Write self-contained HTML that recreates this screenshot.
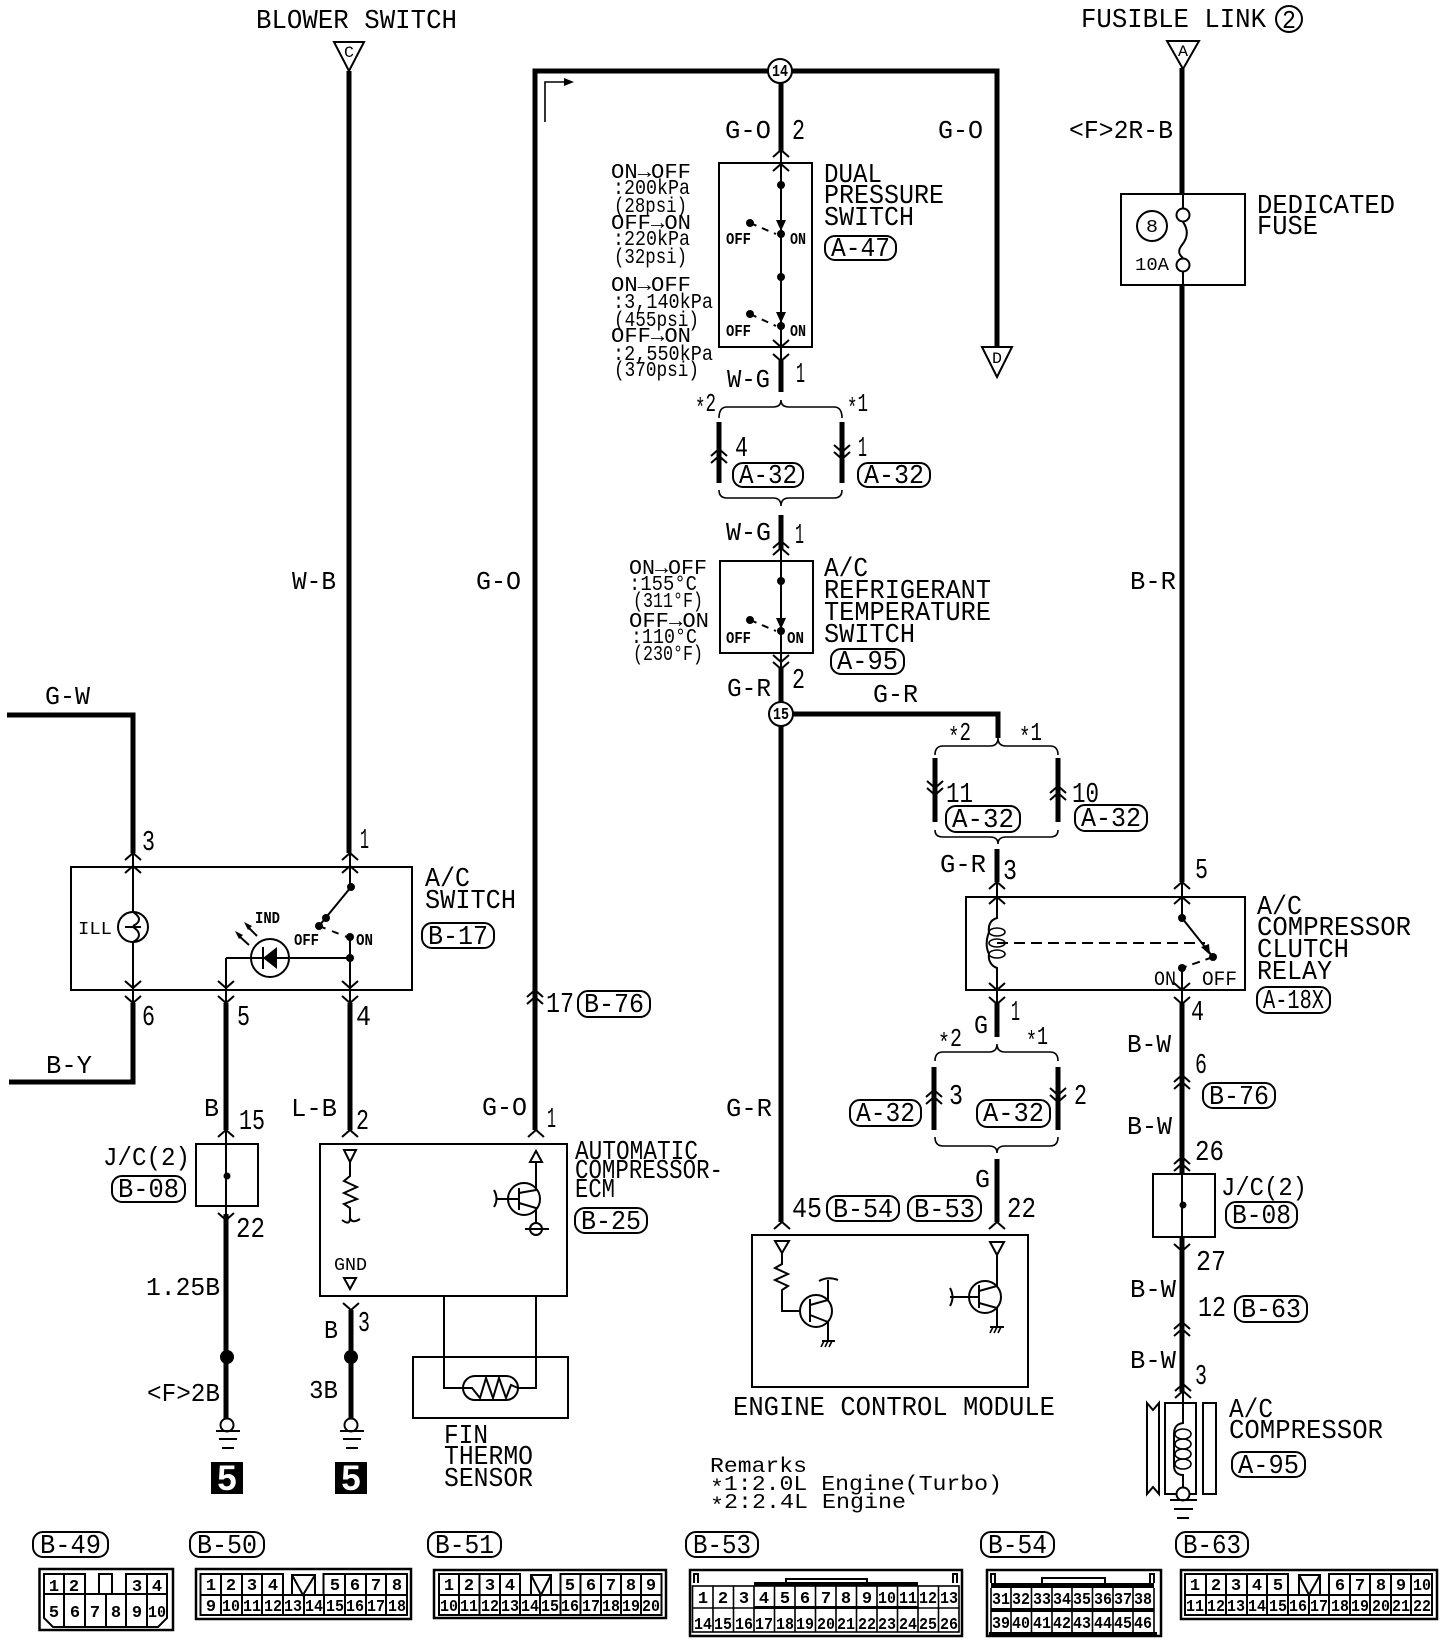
<!DOCTYPE html>
<html><head><meta charset="utf-8"><style>
html,body{margin:0;padding:0;background:#fff}
svg{display:block}
text{font-family:"Liberation Mono",monospace;fill:#000}
.a{font-size:27px}.b{font-size:29px}.w{font-size:26px}.n{font-size:21px}
.s{font-size:17px;font-weight:bold}
.r{font-size:18px}
.c{font-size:17px;font-weight:bold;text-anchor:middle}
.t{fill:none;stroke:#000;stroke-width:2}
.m{fill:none;stroke:#000;stroke-width:1.6}
.k{fill:none;stroke:#000;stroke-width:5}
.f{fill:#000;stroke:none}
.o{fill:#fff;stroke:#000;stroke-width:2}
.p{fill:#fff;stroke:#000;stroke-width:2}
</style></head><body>
<svg xmlns="http://www.w3.org/2000/svg" width="1456" height="1642" viewBox="0 0 1456 1642">
<defs>
<path id="u" d="M-8,7 L0,0 L8,7" fill="none" stroke="#000" stroke-width="2"/>
<path id="d" d="M-8,-7 L0,0 L8,-7" fill="none" stroke="#000" stroke-width="2"/>
</defs>
<rect width="1456" height="1642" fill="#fff"/>

<!-- thick wires -->
<path class="k" d="M349,71V853 M133,853V715H7 M133,1003V1082H9 M226,1003V1130 M350,1003V1130
M535,1130V71H997V347 M781,71V152 M781,360V392 M781,515V550 M781,668V702 M793,714H998V738 M781,726V1222
M997,849V882 M997,1002V1037 M997,1159V1222 M1182,68V193 M1182,285V882 M1182,1002V1174 M1182,1237V1392
M226,1214V1420 M351,1310V1420"/>
<path class="k" d="M719,422V483 M842,422V483 M935,758V822 M1058,758V822 M934,1067V1130 M1058,1067V1130"/>

<!-- chevrons -->
<g>
<use href="#u" x="133" y="853"/><use href="#u" x="133" y="866"/>
<use href="#u" x="350" y="853"/><use href="#u" x="350" y="866"/>
<use href="#d" x="133" y="988"/><use href="#d" x="133" y="1003"/>
<use href="#d" x="226" y="988"/><use href="#d" x="226" y="1003"/>
<use href="#d" x="350" y="988"/><use href="#d" x="350" y="1003"/>
<use href="#u" x="226" y="1130"/><use href="#u" x="350" y="1130"/><use href="#u" x="536" y="1130"/>
<use href="#u" x="535" y="990"/><use href="#u" x="535" y="997"/>
<use href="#d" x="226" y="1220"/><use href="#d" x="351" y="1310"/>
<use href="#u" x="781" y="150"/><use href="#u" x="781" y="164"/>
<use href="#d" x="781" y="347"/><use href="#d" x="781" y="361"/>
<use href="#u" x="719" y="449"/><use href="#u" x="719" y="456"/>
<use href="#d" x="842" y="452"/><use href="#d" x="842" y="459"/>
<use href="#u" x="781" y="541"/><use href="#u" x="781" y="548"/>
<use href="#d" x="781" y="662"/><use href="#d" x="781" y="669"/>
<use href="#d" x="935" y="795"/><use href="#d" x="935" y="788"/>
<use href="#u" x="1058" y="786"/><use href="#u" x="1058" y="793"/>
<use href="#u" x="997" y="882"/><use href="#u" x="997" y="897"/>
<use href="#u" x="1182" y="882"/><use href="#u" x="1182" y="897"/>
<use href="#d" x="997" y="990"/><use href="#d" x="997" y="1004"/>
<use href="#d" x="1182" y="990"/><use href="#d" x="1182" y="1004"/>
<use href="#u" x="934" y="1090"/><use href="#u" x="934" y="1097"/>
<use href="#d" x="1058" y="1095"/><use href="#d" x="1058" y="1102"/>
<use href="#u" x="782" y="1222"/><use href="#u" x="997" y="1222"/>
<use href="#u" x="1182" y="1075"/><use href="#u" x="1182" y="1082"/>
<use href="#u" x="1182" y="1157"/><use href="#u" x="1182" y="1164"/>
<use href="#d" x="1182" y="1251"/>
<use href="#u" x="1182" y="1322"/><use href="#u" x="1182" y="1329"/>
<use href="#u" x="1183" y="1384"/><use href="#u" x="1183" y="1391"/>
</g>

<!-- top labels -->
<text class="a" x="256" y="28" textLength="201" lengthAdjust="spacingAndGlyphs">BLOWER SWITCH</text>
<path class="t" fill="#fff" d="M334,42H364L349,71Z"/><text x="344" y="57" font-size="16" textLength="10" lengthAdjust="spacingAndGlyphs">C</text>
<text class="a" x="1081" y="27" textLength="185" lengthAdjust="spacingAndGlyphs">FUSIBLE LINK</text>
<circle class="t" cx="1289" cy="19" r="13"/><text class="w" x="1282" y="28" textLength="14" lengthAdjust="spacingAndGlyphs">2</text>
<path class="t" d="M1167,41H1199L1183,69Z"/><text x="1178" y="56" font-size="16" textLength="10" lengthAdjust="spacingAndGlyphs">A</text>
<path class="t" d="M982,347H1012L997,377Z"/><text x="992" y="363" font-size="16" textLength="10" lengthAdjust="spacingAndGlyphs">D</text>
<path class="m" d="M545,122V82H566"/><path class="f" d="M574,82L564,78V86Z"/>

<!-- wire labels -->
<text class="w" x="292" y="589" textLength="44" lengthAdjust="spacingAndGlyphs">W-B</text>
<text class="w" x="476" y="589" textLength="45" lengthAdjust="spacingAndGlyphs">G-O</text>
<text class="w" x="725" y="138" textLength="46" lengthAdjust="spacingAndGlyphs">G-O</text>
<text class="b" x="792" y="139" textLength="13" lengthAdjust="spacingAndGlyphs">2</text>
<text class="w" x="938" y="138" textLength="45" lengthAdjust="spacingAndGlyphs">G-O</text>
<text class="w" x="1069" y="138" textLength="104" lengthAdjust="spacingAndGlyphs">&lt;F&gt;2R-B</text>
<text class="w" x="1130" y="589" textLength="46" lengthAdjust="spacingAndGlyphs">B-R</text>
<text class="w" x="45" y="704" textLength="45" lengthAdjust="spacingAndGlyphs">G-W</text>
<text class="w" x="46" y="1073" textLength="46" lengthAdjust="spacingAndGlyphs">B-Y</text>
<text class="w" x="727" y="387" textLength="43" lengthAdjust="spacingAndGlyphs">W-G</text>
<text class="b" x="796" y="382" textLength="9" lengthAdjust="spacingAndGlyphs">1</text>
<text class="w" x="695" y="411" textLength="21" lengthAdjust="spacingAndGlyphs"><tspan dy="5">*</tspan><tspan dy="-5">2</tspan></text>
<text class="w" x="847" y="411" textLength="21" lengthAdjust="spacingAndGlyphs"><tspan dy="5">*</tspan><tspan dy="-5">1</tspan></text>
<text class="b" x="735" y="456" textLength="13" lengthAdjust="spacingAndGlyphs">4</text>
<text class="b" x="858" y="456" textLength="9" lengthAdjust="spacingAndGlyphs">1</text>
<text class="w" x="726" y="540" textLength="45" lengthAdjust="spacingAndGlyphs">W-G</text>
<text class="b" x="795" y="543" textLength="9" lengthAdjust="spacingAndGlyphs">1</text>
<text class="w" x="727" y="696" textLength="44" lengthAdjust="spacingAndGlyphs">G-R</text>
<text class="b" x="792" y="688" textLength="13" lengthAdjust="spacingAndGlyphs">2</text>
<text class="w" x="873" y="702" textLength="45" lengthAdjust="spacingAndGlyphs">G-R</text>
<text class="w" x="948" y="740" textLength="23" lengthAdjust="spacingAndGlyphs"><tspan dy="5">*</tspan><tspan dy="-5">2</tspan></text>
<text class="w" x="1019" y="740" textLength="23" lengthAdjust="spacingAndGlyphs"><tspan dy="5">*</tspan><tspan dy="-5">1</tspan></text>
<text class="b" x="946" y="802" textLength="27" lengthAdjust="spacingAndGlyphs">11</text>
<text class="b" x="1072" y="802" textLength="27" lengthAdjust="spacingAndGlyphs">10</text>
<text class="w" x="940" y="872" textLength="46" lengthAdjust="spacingAndGlyphs">G-R</text>
<text class="b" x="1003" y="879" textLength="14" lengthAdjust="spacingAndGlyphs">3</text>
<text class="b" x="1195" y="878" textLength="13" lengthAdjust="spacingAndGlyphs">5</text>
<text class="b" x="142" y="850" textLength="13" lengthAdjust="spacingAndGlyphs">3</text>
<text class="b" x="360" y="848" textLength="9" lengthAdjust="spacingAndGlyphs">1</text>
<text class="b" x="142" y="1025" textLength="13" lengthAdjust="spacingAndGlyphs">6</text>
<text class="b" x="237" y="1025" textLength="13" lengthAdjust="spacingAndGlyphs">5</text>
<text class="b" x="356" y="1025" textLength="15" lengthAdjust="spacingAndGlyphs">4</text>
<text class="b" x="546" y="1012" textLength="28" lengthAdjust="spacingAndGlyphs">17</text>
<text class="w" x="482" y="1115" textLength="45" lengthAdjust="spacingAndGlyphs">G-O</text>
<text class="b" x="547" y="1127" textLength="9" lengthAdjust="spacingAndGlyphs">1</text>
<text class="w" x="204" y="1116" textLength="15" lengthAdjust="spacingAndGlyphs">B</text>
<text class="b" x="239" y="1129" textLength="26" lengthAdjust="spacingAndGlyphs">15</text>
<text class="w" x="291" y="1116" textLength="46" lengthAdjust="spacingAndGlyphs">L-B</text>
<text class="b" x="356" y="1129" textLength="13" lengthAdjust="spacingAndGlyphs">2</text>
<text class="w" x="103" y="1165" textLength="87" lengthAdjust="spacingAndGlyphs">J/C(2)</text>
<text class="b" x="236" y="1237" textLength="29" lengthAdjust="spacingAndGlyphs">22</text>
<text class="w" x="146" y="1295" textLength="74" lengthAdjust="spacingAndGlyphs">1.25B</text>
<text class="w" x="147" y="1401" textLength="73" lengthAdjust="spacingAndGlyphs">&lt;F&gt;2B</text>
<text class="w" x="309" y="1398" textLength="29" lengthAdjust="spacingAndGlyphs">3B</text>
<text class="w" x="324" y="1338" textLength="14" lengthAdjust="spacingAndGlyphs">B</text>
<text class="b" x="358" y="1331" textLength="12" lengthAdjust="spacingAndGlyphs">3</text>
<text class="w" x="726" y="1116" textLength="46" lengthAdjust="spacingAndGlyphs">G-R</text>
<text class="b" x="792" y="1217" textLength="30" lengthAdjust="spacingAndGlyphs">45</text>
<text class="b" x="1007" y="1217" textLength="29" lengthAdjust="spacingAndGlyphs">22</text>
<text class="w" x="975" y="1187" textLength="15" lengthAdjust="spacingAndGlyphs">G</text>
<text class="w" x="974" y="1033" textLength="14" lengthAdjust="spacingAndGlyphs">G</text>
<text class="b" x="1011" y="1020" textLength="9" lengthAdjust="spacingAndGlyphs">1</text>
<text class="w" x="938" y="1046" textLength="24" lengthAdjust="spacingAndGlyphs"><tspan dy="5">*</tspan><tspan dy="-5">2</tspan></text>
<text class="w" x="1026" y="1044" textLength="22" lengthAdjust="spacingAndGlyphs"><tspan dy="5">*</tspan><tspan dy="-5">1</tspan></text>
<text class="b" x="949" y="1104" textLength="14" lengthAdjust="spacingAndGlyphs">3</text>
<text class="b" x="1074" y="1104" textLength="13" lengthAdjust="spacingAndGlyphs">2</text>
<text class="b" x="1191" y="1020" textLength="13" lengthAdjust="spacingAndGlyphs">4</text>
<text class="w" x="1127" y="1052" textLength="44" lengthAdjust="spacingAndGlyphs">B-W</text>
<text class="b" x="1195" y="1073" textLength="12" lengthAdjust="spacingAndGlyphs">6</text>
<text class="w" x="1127" y="1134" textLength="45" lengthAdjust="spacingAndGlyphs">B-W</text>
<text class="b" x="1195" y="1160" textLength="29" lengthAdjust="spacingAndGlyphs">26</text>
<text class="w" x="1221" y="1195" textLength="86" lengthAdjust="spacingAndGlyphs">J/C(2)</text>
<text class="b" x="1196" y="1270" textLength="30" lengthAdjust="spacingAndGlyphs">27</text>
<text class="w" x="1130" y="1297" textLength="46" lengthAdjust="spacingAndGlyphs">B-W</text>
<text class="b" x="1198" y="1316" textLength="28" lengthAdjust="spacingAndGlyphs">12</text>
<text class="w" x="1130" y="1368" textLength="46" lengthAdjust="spacingAndGlyphs">B-W</text>
<text class="b" x="1195" y="1384" textLength="12" lengthAdjust="spacingAndGlyphs">3</text>

<!-- junctions -->
<circle class="o" cx="780" cy="71" r="12"/><text class="s" x="772" y="76" font-size="14" textLength="16" lengthAdjust="spacingAndGlyphs">14</text>
<circle class="o" cx="781" cy="714" r="12"/><text class="s" x="773" y="719" textLength="16" lengthAdjust="spacingAndGlyphs">15</text>

<!-- Dual pressure switch -->
<rect class="t" x="719" y="163" width="93" height="184"/>
<path class="t" d="M781,152V360"/>
<g class="f"><circle cx="781" cy="185" r="4"/><circle cx="781" cy="234" r="4"/><circle cx="750" cy="223" r="4"/><circle cx="781" cy="277" r="4"/><circle cx="781" cy="326" r="4"/><circle cx="750" cy="314" r="4"/>
<path d="M776,220H786L781,231Z"/><path d="M776,312H786L781,323Z"/></g>
<path class="t" stroke-dasharray="7 6" d="M750,223L776,234"/><path class="t" stroke-dasharray="7 6" d="M750,314L776,326"/>
<text class="s" x="726" y="244" textLength="25" lengthAdjust="spacingAndGlyphs">OFF</text><text class="s" x="790" y="244" textLength="16" lengthAdjust="spacingAndGlyphs">ON</text>
<text class="s" x="726" y="336" textLength="25" lengthAdjust="spacingAndGlyphs">OFF</text><text class="s" x="790" y="336" textLength="16" lengthAdjust="spacingAndGlyphs">ON</text>
<text class="a" x="824" y="182" textLength="58" lengthAdjust="spacingAndGlyphs">DUAL</text>
<text class="a" x="824" y="203" textLength="120" lengthAdjust="spacingAndGlyphs">PRESSURE</text>
<text class="a" x="824" y="225" textLength="90" lengthAdjust="spacingAndGlyphs">SWITCH</text>
<text class="n" x="611" y="178" textLength="80" lengthAdjust="spacingAndGlyphs">ON→OFF</text>
<text class="n" x="613" y="194" textLength="77" lengthAdjust="spacingAndGlyphs">:200kPa</text>
<text class="n" x="614" y="212" textLength="73" lengthAdjust="spacingAndGlyphs">(28psi)</text>
<text class="n" x="611" y="229" textLength="80" lengthAdjust="spacingAndGlyphs">OFF→ON</text>
<text class="n" x="613" y="245" textLength="77" lengthAdjust="spacingAndGlyphs">:220kPa</text>
<text class="n" x="614" y="263" textLength="73" lengthAdjust="spacingAndGlyphs">(32psi)</text>
<text class="n" x="611" y="291" textLength="80" lengthAdjust="spacingAndGlyphs">ON→OFF</text>
<text class="n" x="613" y="308" textLength="100" lengthAdjust="spacingAndGlyphs">:3,140kPa</text>
<text class="n" x="614" y="326" textLength="85" lengthAdjust="spacingAndGlyphs">(455psi)</text>
<text class="n" x="611" y="342" textLength="80" lengthAdjust="spacingAndGlyphs">OFF→ON</text>
<text class="n" x="613" y="360" textLength="100" lengthAdjust="spacingAndGlyphs">:2,550kPa</text>
<text class="n" x="614" y="376" textLength="85" lengthAdjust="spacingAndGlyphs">(370psi)</text>

<!-- braces -->
<path class="m" d="M719,418Q719,407 727,407H773Q781,407 781,400Q781,407 789,407H834Q842,407 842,418"/>
<path class="m" d="M719,490Q719,498 727,498H773Q781,498 781,506Q781,498 789,498H834Q842,498 842,490"/>
<path class="m" d="M935,755Q935,746 943,746H990Q998,746 998,738Q998,746 1006,746H1050Q1058,746 1058,755"/>
<path class="m" d="M935,830Q935,837 943,837H990Q998,837 998,844Q998,837 1006,837H1050Q1058,837 1058,830"/>
<path class="m" d="M935,1061Q935,1052 943,1052H989Q997,1052 997,1044Q997,1052 1005,1052H1050Q1058,1052 1058,1061"/>
<path class="m" d="M935,1137Q935,1146 943,1146H989Q997,1146 997,1153Q997,1146 1005,1146H1050Q1058,1146 1058,1137"/>

<!-- Refrigerant temperature switch -->
<rect class="t" x="720" y="561" width="93" height="92"/>
<path class="t" d="M781,550V668"/>
<g class="f"><circle cx="781" cy="581" r="4"/><circle cx="781" cy="631" r="4"/><circle cx="750" cy="620" r="4"/><path d="M776,618H786L781,629Z"/></g>
<path class="t" stroke-dasharray="7 6" d="M750,620L776,631"/>
<text class="s" x="726" y="643" textLength="25" lengthAdjust="spacingAndGlyphs">OFF</text><text class="s" x="787" y="643" textLength="17" lengthAdjust="spacingAndGlyphs">ON</text>
<text class="n" x="629" y="574" textLength="78" lengthAdjust="spacingAndGlyphs">ON→OFF</text>
<text class="n" x="629" y="590" textLength="68" lengthAdjust="spacingAndGlyphs">:155°C</text>
<text class="n" x="633" y="607" textLength="70" lengthAdjust="spacingAndGlyphs">(311°F)</text>
<text class="n" x="629" y="627" textLength="80" lengthAdjust="spacingAndGlyphs">OFF→ON</text>
<text class="n" x="631" y="643" textLength="66" lengthAdjust="spacingAndGlyphs">:110°C</text>
<text class="n" x="633" y="660" textLength="70" lengthAdjust="spacingAndGlyphs">(230°F)</text>
<text class="a" x="824" y="576" textLength="44" lengthAdjust="spacingAndGlyphs">A/C</text>
<text class="a" x="824" y="598" textLength="167" lengthAdjust="spacingAndGlyphs">REFRIGERANT</text>
<text class="a" x="824" y="620" textLength="167" lengthAdjust="spacingAndGlyphs">TEMPERATURE</text>
<text class="a" x="824" y="642" textLength="91" lengthAdjust="spacingAndGlyphs">SWITCH</text>

<!-- Dedicated fuse -->
<rect class="t" x="1121" y="194" width="124" height="91"/>
<path class="t" d="M1183,194V209 M1183,222C1190,232 1186,240 1182,245C1178,250 1178,254 1183,258 M1183,272V285"/>
<circle class="t" cx="1183" cy="215" r="6.5"/><circle class="t" cx="1183" cy="265" r="6.5"/>
<circle class="t" cx="1152" cy="226" r="15"/><text class="r" x="1146" y="232" textLength="12" lengthAdjust="spacingAndGlyphs">8</text>
<text class="r" x="1135" y="270" textLength="34" lengthAdjust="spacingAndGlyphs">10A</text>
<text class="a" x="1257" y="213" textLength="138" lengthAdjust="spacingAndGlyphs">DEDICATED</text>
<text class="a" x="1257" y="234" textLength="61" lengthAdjust="spacingAndGlyphs">FUSE</text>

<!-- A/C switch -->
<rect class="t" x="71" y="867" width="341" height="123"/>
<path class="t" d="M133,853V912 M133,942V1003 M226,958V1003 M226,958H350 M350,853V887 M350,937V1003"/>
<circle class="t" cx="133" cy="927" r="15"/><path class="t" d="M133,912C141,917 141,922 133,926M125,927H141M133,927C141,932 141,938 133,942"/>
<text class="r" x="78" y="934" textLength="34" lengthAdjust="spacingAndGlyphs">ILL</text>
<text class="s" x="255" y="923" textLength="25" lengthAdjust="spacingAndGlyphs">IND</text>
<circle class="t" cx="270" cy="958" r="19"/><path class="f" d="M263,958L277,947V969Z"/><path class="t" d="M263,947V969"/>
<path class="t" d="M257,936L247,926M249,945L238,935"/><path class="f" d="M244,922L252,926L248,930Z M235,931L243,935L239,939Z"/>
<g class="f"><circle cx="351" cy="887" r="4"/><circle cx="319" cy="926" r="4"/><circle cx="326" cy="918" r="4"/><circle cx="350" cy="937" r="4"/><circle cx="350" cy="958" r="4"/></g>
<path class="t" d="M351,887L319,926"/><path class="t" stroke-dasharray="7 7" d="M319,926L347,937"/>
<text class="s" x="294" y="945" textLength="25" lengthAdjust="spacingAndGlyphs">OFF</text><text class="s" x="356" y="945" textLength="17" lengthAdjust="spacingAndGlyphs">ON</text>
<text class="a" x="425" y="886" textLength="45" lengthAdjust="spacingAndGlyphs">A/C</text>
<text class="a" x="425" y="908" textLength="91" lengthAdjust="spacingAndGlyphs">SWITCH</text>

<!-- J/C left -->
<rect class="t" x="196" y="1144" width="62" height="62"/><path class="t" d="M226,1130V1220"/><circle class="f" cx="227" cy="1176" r="3.5"/>
<circle class="f" cx="227" cy="1357" r="7"/><circle class="f" cx="351" cy="1357" r="7"/>
<g class="o"><circle cx="227" cy="1425" r="6.5"/><circle cx="351" cy="1425" r="6.5"/></g>
<path class="t" d="M216,1431H240M219,1439H237M222,1448H234M340,1431H364M343,1439H361M346,1448H358"/>
<rect x="211" y="1462" width="32" height="32" fill="#000"/><rect x="335" y="1462" width="32" height="32" fill="#000"/>
<text x="227" y="1490" font-size="35" font-weight="bold" text-anchor="middle" style="font-family:'Liberation Sans',sans-serif;fill:#fff">5</text>
<text x="351" y="1490" font-size="35" font-weight="bold" text-anchor="middle" style="font-family:'Liberation Sans',sans-serif;fill:#fff">5</text>

<!-- ECM -->
<rect class="t" x="320" y="1144" width="247" height="152"/>
<path class="t" d="M344,1150H356L350,1162Z M350,1162V1176L344,1181L357,1187L344,1193L357,1199L344,1204L350,1208V1220 M342,1220Q350,1226 350,1218Q352,1224 360,1219"/>
<text class="r" x="334" y="1270" textLength="33" lengthAdjust="spacingAndGlyphs">GND</text>
<path class="t" d="M344,1278H356L350,1289Z"/>
<circle class="t" cx="524" cy="1199" r="16"/>
<path class="t" d="M497,1199H519 M519,1188V1210 M519,1193L536,1190V1162 M519,1203L536,1208V1223 M494,1190Q499,1199 494,1207 M525,1229H549"/>
<path class="t" d="M530,1162H542L536,1151Z"/><circle class="t" cx="536" cy="1229" r="6"/>
<text class="a" x="575" y="1159" textLength="123" lengthAdjust="spacingAndGlyphs">AUTOMATIC</text>
<text class="a" x="575" y="1178" textLength="148" lengthAdjust="spacingAndGlyphs">COMPRESSOR-</text>
<text class="a" x="575" y="1197" textLength="40" lengthAdjust="spacingAndGlyphs">ECM</text>

<!-- Fin thermo -->
<rect class="t" x="413" y="1357" width="155" height="61"/>
<path class="t" d="M444,1296V1388H463 M536,1296V1388H518 M463,1388H472L480,1398L486,1378L493,1398L499,1378L506,1398L511,1385L518,1388"/>
<rect class="t" x="463" y="1376" width="55" height="24" rx="12"/>
<text class="a" x="444" y="1443" textLength="44" lengthAdjust="spacingAndGlyphs">FIN</text>
<text class="a" x="444" y="1464" textLength="89" lengthAdjust="spacingAndGlyphs">THERMO</text>
<text class="a" x="444" y="1486" textLength="89" lengthAdjust="spacingAndGlyphs">SENSOR</text>

<!-- Relay -->
<rect class="t" x="966" y="897" width="279" height="93"/>
<path class="t" d="M997,880V918C990,920 988,926 989,932C986,940 986,948 989,954C988,960 991,966 997,968V1002 M1182,880V918L1213,957 M1182,968V1002"/>
<g class="m"><ellipse cx="997" cy="932" rx="8" ry="4"/><ellipse cx="997" cy="943" rx="8" ry="4"/><ellipse cx="997" cy="954" rx="8" ry="4"/></g>
<path class="t" stroke-dasharray="11 6" d="M997,943H1205"/>
<g class="f"><circle cx="1182" cy="918" r="4"/><circle cx="1213" cy="957" r="4"/><circle cx="1182" cy="968" r="4"/><path d="M1201,947L1209,944L1210,955Z"/></g>
<path class="t" stroke-dasharray="8 6" d="M1213,957L1182,968"/>
<text x="1154" y="985" font-size="20" textLength="22" lengthAdjust="spacingAndGlyphs">ON</text>
<text x="1202" y="985" font-size="20" textLength="35" lengthAdjust="spacingAndGlyphs">OFF</text>
<text class="a" x="1257" y="914" textLength="45" lengthAdjust="spacingAndGlyphs">A/C</text>
<text class="a" x="1257" y="935" textLength="154" lengthAdjust="spacingAndGlyphs">COMPRESSOR</text>
<text class="a" x="1257" y="957" textLength="92" lengthAdjust="spacingAndGlyphs">CLUTCH</text>
<text class="a" x="1257" y="979" textLength="75" lengthAdjust="spacingAndGlyphs">RELAY</text>

<!-- J/C right -->
<rect class="t" x="1153" y="1174" width="62" height="63"/><path class="t" d="M1182,1164V1251"/><circle class="f" cx="1183" cy="1205" r="3.5"/>

<!-- Compressor -->
<path class="t" d="M1147,1403L1153,1410L1159,1403V1494L1153,1487L1147,1494Z"/>
<rect class="t" x="1165" y="1403" width="31" height="91"/><rect class="t" x="1203" y="1403" width="13" height="91"/>
<path class="t" d="M1183,1392V1423C1176,1424 1174,1428 1174,1434V1466C1174,1472 1178,1475 1183,1475V1488"/>
<g class="m"><ellipse cx="1183" cy="1434" rx="8" ry="5"/><ellipse cx="1183" cy="1444" rx="8" ry="5"/><ellipse cx="1183" cy="1454" rx="8" ry="5"/><ellipse cx="1183" cy="1464" rx="8" ry="5"/></g>
<circle class="o" cx="1183" cy="1494" r="6.5"/>
<path class="t" d="M1170,1500H1197M1174,1509H1193M1177,1518H1189"/>
<text class="a" x="1229" y="1417" textLength="44" lengthAdjust="spacingAndGlyphs">A/C</text>
<text class="a" x="1229" y="1438" textLength="154" lengthAdjust="spacingAndGlyphs">COMPRESSOR</text>

<!-- ECM box -->
<rect class="t" x="752" y="1235" width="276" height="152"/>
<path class="t" d="M775,1241H789L782,1253Z M782,1253V1264L775,1268L788,1274L775,1280L788,1286L782,1290V1311H800"/>
<circle class="t" cx="816" cy="1311" r="16"/>
<path class="t" d="M810,1299V1322 M810,1305L828,1300V1280 M819,1281Q828,1276 838,1280 M810,1315L828,1322V1341 M822,1341H835"/>
<path class="m" d="M824,1341L821,1347M828,1341L825,1347M832,1341L829,1347"/>
<path class="t" d="M990,1242H1004L997,1255Z M997,1255V1286L979,1291 M979,1285V1308 M979,1303L997,1308V1327 M950,1297H979 M950,1288Q955,1297 950,1306 M990,1327H1004"/>
<path class="m" d="M993,1327L990,1333M997,1327L994,1333M1001,1327L998,1333"/>
<circle class="t" cx="985" cy="1297" r="16"/>
<text class="a" x="733" y="1415" textLength="322" lengthAdjust="spacingAndGlyphs">ENGINE CONTROL MODULE</text>

<!-- Remarks -->
<text class="n" x="710" y="1472" textLength="97" lengthAdjust="spacingAndGlyphs">Remarks</text>
<text class="n" x="710" y="1490" textLength="292" lengthAdjust="spacingAndGlyphs"><tspan dy="4">*</tspan><tspan dy="-4">1:2.0L Engine(Turbo)</tspan></text>
<text class="n" x="710" y="1508" textLength="196" lengthAdjust="spacingAndGlyphs"><tspan dy="4">*</tspan><tspan dy="-4">2:2.4L Engine</tspan></text>

<!-- pills -->
<g>
<rect class="p" x="825" y="236" width="71" height="24" rx="10"/><text class="a" x="831" y="256" textLength="59" lengthAdjust="spacingAndGlyphs">A-47</text>
<rect class="p" x="733" y="463" width="70" height="24" rx="10"/><text class="a" x="739" y="483" textLength="58" lengthAdjust="spacingAndGlyphs">A-32</text>
<rect class="p" x="858" y="463" width="72" height="24" rx="10"/><text class="a" x="864" y="483" textLength="60" lengthAdjust="spacingAndGlyphs">A-32</text>
<rect class="p" x="831" y="649" width="73" height="25" rx="10"/><text class="a" x="837" y="669" textLength="61" lengthAdjust="spacingAndGlyphs">A-95</text>
<rect class="p" x="946" y="806" width="74" height="26" rx="10"/><text class="a" x="952" y="827" textLength="62" lengthAdjust="spacingAndGlyphs">A-32</text>
<rect class="p" x="1075" y="805" width="72" height="26" rx="10"/><text class="a" x="1081" y="826" textLength="60" lengthAdjust="spacingAndGlyphs">A-32</text>
<rect class="p" x="1257" y="987" width="73" height="26" rx="10"/><text class="a" x="1263" y="1008" textLength="61" lengthAdjust="spacingAndGlyphs">A-18X</text>
<rect class="p" x="1203" y="1083" width="72" height="25" rx="10"/><text class="a" x="1209" y="1104" textLength="60" lengthAdjust="spacingAndGlyphs">B-76</text>
<rect class="p" x="1226" y="1202" width="71" height="26" rx="10"/><text class="a" x="1232" y="1223" textLength="59" lengthAdjust="spacingAndGlyphs">B-08</text>
<rect class="p" x="1235" y="1296" width="72" height="26" rx="10"/><text class="a" x="1241" y="1317" textLength="60" lengthAdjust="spacingAndGlyphs">B-63</text>
<rect class="p" x="1232" y="1452" width="73" height="25" rx="10"/><text class="a" x="1238" y="1473" textLength="61" lengthAdjust="spacingAndGlyphs">A-95</text>
<rect class="p" x="578" y="991" width="72" height="26" rx="10"/><text class="a" x="584" y="1012" textLength="60" lengthAdjust="spacingAndGlyphs">B-76</text>
<rect class="p" x="422" y="923" width="72" height="25" rx="10"/><text class="a" x="428" y="944" textLength="60" lengthAdjust="spacingAndGlyphs">B-17</text>
<rect class="p" x="112" y="1176" width="73" height="26" rx="10"/><text class="a" x="118" y="1197" textLength="61" lengthAdjust="spacingAndGlyphs">B-08</text>
<rect class="p" x="575" y="1208" width="72" height="25" rx="10"/><text class="a" x="581" y="1229" textLength="60" lengthAdjust="spacingAndGlyphs">B-25</text>
<rect class="p" x="827" y="1196" width="72" height="25" rx="10"/><text class="a" x="833" y="1217" textLength="60" lengthAdjust="spacingAndGlyphs">B-54</text>
<rect class="p" x="908" y="1196" width="73" height="25" rx="10"/><text class="a" x="914" y="1217" textLength="61" lengthAdjust="spacingAndGlyphs">B-53</text>
<rect class="p" x="850" y="1100" width="71" height="26" rx="10"/><text class="a" x="856" y="1121" textLength="59" lengthAdjust="spacingAndGlyphs">A-32</text>
<rect class="p" x="977" y="1100" width="73" height="27" rx="10"/><text class="a" x="983" y="1121" textLength="61" lengthAdjust="spacingAndGlyphs">A-32</text>
<rect class="p" x="33" y="1532" width="75" height="25" rx="10"/><text class="a" x="40" y="1553" textLength="61" lengthAdjust="spacingAndGlyphs">B-49</text>
<rect class="p" x="190" y="1532" width="74" height="25" rx="10"/><text class="a" x="197" y="1553" textLength="60" lengthAdjust="spacingAndGlyphs">B-50</text>
<rect class="p" x="428" y="1532" width="73" height="25" rx="10"/><text class="a" x="435" y="1553" textLength="59" lengthAdjust="spacingAndGlyphs">B-51</text>
<rect class="p" x="686" y="1532" width="72" height="25" rx="10"/><text class="a" x="693" y="1553" textLength="58" lengthAdjust="spacingAndGlyphs">B-53</text>
<rect class="p" x="981" y="1532" width="73" height="25" rx="10"/><text class="a" x="988" y="1553" textLength="59" lengthAdjust="spacingAndGlyphs">B-54</text>
<rect class="p" x="1176" y="1532" width="72" height="25" rx="10"/><text class="a" x="1183" y="1553" textLength="58" lengthAdjust="spacingAndGlyphs">B-63</text>
</g>

<!-- B-49 -->
<rect x="39.5" y="1569" width="133.5" height="61" fill="none" stroke="#000" stroke-width="2.5"/>
<path class="t" d="M44,1594V1574H85V1594 M99,1594V1574H112V1594 M126,1594V1574H167V1618L158,1627H53L44,1618V1594 M44,1594H167 M64,1574V1594 M147,1574V1594 M64,1594V1627 M85,1594V1627 M106,1594V1627 M126,1594V1627 M147,1594V1627"/>
<text class="c" x="54" y="1591">1</text><text class="c" x="74" y="1591">2</text><text class="c" x="137" y="1591">3</text><text class="c" x="157" y="1591">4</text>
<text class="c" x="54" y="1617">5</text><text class="c" x="75" y="1617">6</text><text class="c" x="95" y="1617">7</text><text class="c" x="116" y="1617">8</text><text class="c" x="137" y="1617">9</text><text class="c" x="157" y="1617" textLength="18" lengthAdjust="spacingAndGlyphs">10</text>

<!-- B-50 -->
<rect x="196" y="1569" width="215" height="50" fill="none" stroke="#000" stroke-width="2.5"/>
<path class="t" d="M200.5,1595V1574H283V1595 M323.5,1595V1574H407V1595 M200.5,1595H407V1615H200.5Z M292,1595V1575H315V1595 M292,1575L303,1595L315,1575
M221,1574V1595M242,1574V1595M262,1574V1595M345,1574V1595M366,1574V1595M386,1574V1595
M221,1595V1615M242,1595V1615M262,1595V1615M283,1595V1615M304,1595V1615M324,1595V1615M345,1595V1615M366,1595V1615M386,1595V1615"/>
<text class="c" x="211" y="1590">1</text><text class="c" x="231" y="1590">2</text><text class="c" x="252" y="1590">3</text><text class="c" x="273" y="1590">4</text><text class="c" x="335" y="1590">5</text><text class="c" x="355" y="1590">6</text><text class="c" x="376" y="1590">7</text><text class="c" x="397" y="1590">8</text>
<text class="c" x="211" y="1611">9</text>
<text class="c" x="231" y="1611" textLength="18" lengthAdjust="spacingAndGlyphs">10</text><text class="c" x="252" y="1611" textLength="18" lengthAdjust="spacingAndGlyphs">11</text><text class="c" x="273" y="1611" textLength="18" lengthAdjust="spacingAndGlyphs">12</text><text class="c" x="293" y="1611" textLength="18" lengthAdjust="spacingAndGlyphs">13</text><text class="c" x="314" y="1611" textLength="18" lengthAdjust="spacingAndGlyphs">14</text><text class="c" x="335" y="1611" textLength="18" lengthAdjust="spacingAndGlyphs">15</text><text class="c" x="355" y="1611" textLength="18" lengthAdjust="spacingAndGlyphs">16</text><text class="c" x="376" y="1611" textLength="18" lengthAdjust="spacingAndGlyphs">17</text><text class="c" x="397" y="1611" textLength="18" lengthAdjust="spacingAndGlyphs">18</text>

<!-- B-51 -->
<rect x="434" y="1570" width="232" height="48" fill="none" stroke="#000" stroke-width="2.5"/>
<path class="t" d="M439,1595V1574H520V1595 M560.5,1595V1574H661.5V1595 M439,1595H661.5V1615H439Z M531,1595V1575H551V1595 M531,1575L541,1595L551,1575
M459,1574V1595M479.5,1574V1595M500,1574V1595M580.5,1574V1595M601,1574V1595M621,1574V1595M641,1574V1595
M459,1595V1615M479.5,1595V1615M500,1595V1615M520,1595V1615M540,1595V1615M560.5,1595V1615M580.5,1595V1615M601,1595V1615M621,1595V1615M641,1595V1615"/>
<text class="c" x="449" y="1590">1</text><text class="c" x="469" y="1590">2</text><text class="c" x="490" y="1590">3</text><text class="c" x="510" y="1590">4</text><text class="c" x="570" y="1590">5</text><text class="c" x="591" y="1590">6</text><text class="c" x="611" y="1590">7</text><text class="c" x="631" y="1590">8</text><text class="c" x="651" y="1590">9</text>
<text class="c" x="449" y="1611" textLength="18" lengthAdjust="spacingAndGlyphs">10</text><text class="c" x="469" y="1611" textLength="18" lengthAdjust="spacingAndGlyphs">11</text><text class="c" x="490" y="1611" textLength="18" lengthAdjust="spacingAndGlyphs">12</text><text class="c" x="510" y="1611" textLength="18" lengthAdjust="spacingAndGlyphs">13</text><text class="c" x="530" y="1611" textLength="18" lengthAdjust="spacingAndGlyphs">14</text><text class="c" x="550" y="1611" textLength="18" lengthAdjust="spacingAndGlyphs">15</text><text class="c" x="570" y="1611" textLength="18" lengthAdjust="spacingAndGlyphs">16</text><text class="c" x="591" y="1611" textLength="18" lengthAdjust="spacingAndGlyphs">17</text><text class="c" x="611" y="1611" textLength="18" lengthAdjust="spacingAndGlyphs">18</text><text class="c" x="631" y="1611" textLength="18" lengthAdjust="spacingAndGlyphs">19</text><text class="c" x="651" y="1611" textLength="18" lengthAdjust="spacingAndGlyphs">20</text>

<!-- B-53 -->
<rect x="690" y="1570" width="272" height="66" fill="none" stroke="#000" stroke-width="2.5"/>
<path class="t" d="M786,1583V1579H867V1583 M694,1583V1574H698V1583 M953,1583V1574H957V1583"/>
<rect x="692.5" y="1586" width="266.5" height="46" fill="none" stroke="#000" stroke-width="1.6"/>
<rect x="754" y="1582" width="164" height="4" fill="#000"/><rect x="754" y="1606" width="164" height="3" fill="#000"/>
<path class="m" d="M692.5,1608H959 M713,1586V1632M733.5,1586V1632M754,1586V1632M774.5,1586V1632M795,1586V1632M815.5,1586V1632M836,1586V1632M856.5,1586V1632M877,1586V1632M897.5,1586V1632M918,1586V1632M938.5,1586V1632"/>
<text class="c" x="703" y="1603">1</text><text class="c" x="723" y="1603">2</text><text class="c" x="744" y="1603">3</text><text class="c" x="764" y="1603">4</text><text class="c" x="785" y="1603">5</text><text class="c" x="805" y="1603">6</text><text class="c" x="826" y="1603">7</text><text class="c" x="846" y="1603">8</text><text class="c" x="867" y="1603">9</text><text class="c" x="887" y="1603" textLength="18" lengthAdjust="spacingAndGlyphs">10</text><text class="c" x="908" y="1603" textLength="18" lengthAdjust="spacingAndGlyphs">11</text><text class="c" x="928" y="1603" textLength="18" lengthAdjust="spacingAndGlyphs">12</text><text class="c" x="949" y="1603" textLength="18" lengthAdjust="spacingAndGlyphs">13</text>
<text class="c" x="703" y="1629" textLength="18" lengthAdjust="spacingAndGlyphs">14</text><text class="c" x="723" y="1629" textLength="18" lengthAdjust="spacingAndGlyphs">15</text><text class="c" x="744" y="1629" textLength="18" lengthAdjust="spacingAndGlyphs">16</text><text class="c" x="764" y="1629" textLength="18" lengthAdjust="spacingAndGlyphs">17</text><text class="c" x="785" y="1629" textLength="18" lengthAdjust="spacingAndGlyphs">18</text><text class="c" x="805" y="1629" textLength="18" lengthAdjust="spacingAndGlyphs">19</text><text class="c" x="826" y="1629" textLength="18" lengthAdjust="spacingAndGlyphs">20</text><text class="c" x="846" y="1629" textLength="18" lengthAdjust="spacingAndGlyphs">21</text><text class="c" x="867" y="1629" textLength="18" lengthAdjust="spacingAndGlyphs">22</text><text class="c" x="887" y="1629" textLength="18" lengthAdjust="spacingAndGlyphs">23</text><text class="c" x="908" y="1629" textLength="18" lengthAdjust="spacingAndGlyphs">24</text><text class="c" x="928" y="1629" textLength="18" lengthAdjust="spacingAndGlyphs">25</text><text class="c" x="949" y="1629" textLength="18" lengthAdjust="spacingAndGlyphs">26</text>

<!-- B-54 -->
<rect x="987" y="1570" width="174" height="66" fill="none" stroke="#000" stroke-width="2.5"/>
<path class="t" d="M1042,1583V1578H1105V1583 M991,1583V1574H995V1583 M1150,1583V1574H1154V1583"/>
<rect x="991" y="1583" width="163" height="5" fill="#000"/><rect x="991" y="1608" width="163" height="4" fill="#000"/><rect x="989" y="1632" width="168" height="3" fill="#000"/>
<path class="m" d="M991,1588V1632M1011,1588V1632M1031.5,1588V1632M1052,1588V1632M1072,1588V1632M1092.5,1588V1632M1113,1588V1632M1133,1588V1632M1154,1588V1632"/>
<text class="c" x="1001" y="1604" textLength="18" lengthAdjust="spacingAndGlyphs">31</text><text class="c" x="1021" y="1604" textLength="18" lengthAdjust="spacingAndGlyphs">32</text><text class="c" x="1042" y="1604" textLength="18" lengthAdjust="spacingAndGlyphs">33</text><text class="c" x="1062" y="1604" textLength="18" lengthAdjust="spacingAndGlyphs">34</text><text class="c" x="1082" y="1604" textLength="18" lengthAdjust="spacingAndGlyphs">35</text><text class="c" x="1103" y="1604" textLength="18" lengthAdjust="spacingAndGlyphs">36</text><text class="c" x="1123" y="1604" textLength="18" lengthAdjust="spacingAndGlyphs">37</text><text class="c" x="1143" y="1604" textLength="18" lengthAdjust="spacingAndGlyphs">38</text>
<text class="c" x="1001" y="1628" textLength="18" lengthAdjust="spacingAndGlyphs">39</text><text class="c" x="1021" y="1628" textLength="18" lengthAdjust="spacingAndGlyphs">40</text><text class="c" x="1042" y="1628" textLength="18" lengthAdjust="spacingAndGlyphs">41</text><text class="c" x="1062" y="1628" textLength="18" lengthAdjust="spacingAndGlyphs">42</text><text class="c" x="1082" y="1628" textLength="18" lengthAdjust="spacingAndGlyphs">43</text><text class="c" x="1103" y="1628" textLength="18" lengthAdjust="spacingAndGlyphs">44</text><text class="c" x="1123" y="1628" textLength="18" lengthAdjust="spacingAndGlyphs">45</text><text class="c" x="1143" y="1628" textLength="18" lengthAdjust="spacingAndGlyphs">46</text>

<!-- B-63 -->
<rect x="1181" y="1570" width="256" height="49" fill="none" stroke="#000" stroke-width="2.5"/>
<path class="t" d="M1185,1595V1574H1288V1595 M1329,1595V1574H1432V1595 M1185,1595H1432V1615H1185Z M1299,1595V1575H1320V1595 M1299,1575L1309,1595L1320,1575
M1206,1574V1595M1226,1574V1595M1247,1574V1595M1267,1574V1595M1350,1574V1595M1370,1574V1595M1391,1574V1595M1411,1574V1595
M1206,1595V1615M1226,1595V1615M1247,1595V1615M1267,1595V1615M1288,1595V1615M1309,1595V1615M1329,1595V1615M1350,1595V1615M1370,1595V1615M1391,1595V1615M1411,1595V1615"/>
<text class="c" x="1195" y="1590">1</text><text class="c" x="1216" y="1590">2</text><text class="c" x="1236" y="1590">3</text><text class="c" x="1257" y="1590">4</text><text class="c" x="1278" y="1590">5</text><text class="c" x="1340" y="1590">6</text><text class="c" x="1360" y="1590">7</text><text class="c" x="1381" y="1590">8</text><text class="c" x="1401" y="1590">9</text><text class="c" x="1422" y="1590" textLength="18" lengthAdjust="spacingAndGlyphs">10</text>
<text class="c" x="1195" y="1611" textLength="18" lengthAdjust="spacingAndGlyphs">11</text><text class="c" x="1216" y="1611" textLength="18" lengthAdjust="spacingAndGlyphs">12</text><text class="c" x="1236" y="1611" textLength="18" lengthAdjust="spacingAndGlyphs">13</text><text class="c" x="1257" y="1611" textLength="18" lengthAdjust="spacingAndGlyphs">14</text><text class="c" x="1278" y="1611" textLength="18" lengthAdjust="spacingAndGlyphs">15</text><text class="c" x="1298" y="1611" textLength="18" lengthAdjust="spacingAndGlyphs">16</text><text class="c" x="1319" y="1611" textLength="18" lengthAdjust="spacingAndGlyphs">17</text><text class="c" x="1340" y="1611" textLength="18" lengthAdjust="spacingAndGlyphs">18</text><text class="c" x="1360" y="1611" textLength="18" lengthAdjust="spacingAndGlyphs">19</text><text class="c" x="1381" y="1611" textLength="18" lengthAdjust="spacingAndGlyphs">20</text><text class="c" x="1401" y="1611" textLength="18" lengthAdjust="spacingAndGlyphs">21</text><text class="c" x="1422" y="1611" textLength="18" lengthAdjust="spacingAndGlyphs">22</text>
</svg>
</body></html>
